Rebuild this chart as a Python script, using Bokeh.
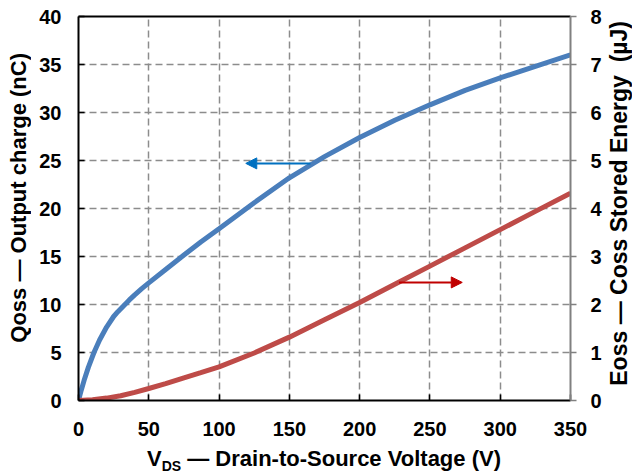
from bokeh.plotting import figure
from bokeh.models import Range1d, LinearAxis, FixedTicker, Arrow, NormalHead, Div
from bokeh.layouts import column, row
from bokeh.embed import file_html
from bokeh.resources import INLINE

# ---- data ----
vds_q = [0, 2, 4, 7, 11, 15, 20, 25, 28, 32, 36, 40, 45, 50, 62, 75, 87, 100, 125, 150, 175, 200, 225, 250, 275, 300, 325, 350]
qoss = [0, 1.1, 2.1, 3.45, 5.0, 6.3, 7.65, 8.75, 9.25, 9.85, 10.45, 11.0, 11.65, 12.25, 13.65, 15.15, 16.5, 17.9, 20.6, 23.2, 25.4, 27.4, 29.2, 30.8, 32.3, 33.6, 34.8, 36.0]

vds_e = [0, 10, 20, 30, 40, 50, 62, 75, 87, 100, 125, 150, 175, 200, 225, 250, 275, 300, 325, 350]
eoss = [0, 0.015, 0.05, 0.10, 0.17, 0.25, 0.35, 0.47, 0.58, 0.70, 0.99, 1.32, 1.68, 2.04, 2.42, 2.80, 3.18, 3.56, 3.94, 4.32]

x_ticks = [0, 50, 100, 150, 200, 250, 300, 350]
q_ticks = [0, 5, 10, 15, 20, 25, 30, 35, 40]
e_ticks = [0, 1, 2, 3, 4, 5, 6, 7, 8]
x_grid = [50, 100, 150, 200, 250, 300]
q_grid = [5, 10, 15, 20, 25, 30, 35]

q_arrow_x = [165, 119]   # start, end (V)
q_arrow_y = [24.7, 24.7]  # nC
e_arrow_x = [228, 273]
e_arrow_y = [2.46, 2.46]  # uJ

left_title = "Qoss \u2014 Output charge (nC)"
right_title = "Eoss \u2014 Coss Stored Energy&nbsp; (\u00b5J)"
bottom_title_main = "V"
bottom_title_sub = "DS"
bottom_title_rest = "\u2014 Drain-to-Source Voltage (V)"

BLUE = "#4A7EBB"
RED = "#BE4B48"
FONT = "Liberation Sans"
CSS_FONT = "font-family:'Liberation Sans',Arial,sans-serif;font-weight:bold;color:#000;white-space:nowrap;"

p = figure(width=569, height=447, output_backend="svg", toolbar_location=None,
           x_range=Range1d(0, 350), y_range=Range1d(0, 40),
           min_border_left=42, min_border_right=35, min_border_top=16, min_border_bottom=47)
p.extra_y_ranges = {"e": Range1d(0, 8)}
p.outline_line_color = None
p.background_fill_color = "white"
p.border_fill_color = "white"

# grid
p.xgrid.ticker = FixedTicker(ticks=x_grid)
p.ygrid.ticker = FixedTicker(ticks=q_grid)
for g in (p.xgrid[0], p.ygrid[0]):
    g.grid_line_color = "#8C8C8C"
    g.grid_line_dash = "7 4"
    g.grid_line_width = 1.5


def style_axis(ax, color="black", tin=6, tout=0, standoff=18):
    ax.axis_line_color = color
    ax.axis_line_width = 2
    ax.major_tick_line_color = color
    ax.major_tick_line_width = 1.5
    ax.major_tick_in = tin
    ax.major_tick_out = tout
    ax.minor_tick_in = 0
    ax.minor_tick_out = 0
    ax.minor_tick_line_color = None
    ax.major_label_text_font = FONT
    ax.major_label_text_font_style = "bold"
    ax.major_label_text_font_size = "20px"
    ax.major_label_text_color = "black"
    ax.major_label_standoff = standoff


xa = p.xaxis[0]
xa.ticker = FixedTicker(ticks=x_ticks)
style_axis(xa, tin=6, tout=0, standoff=21)

ya = p.yaxis[0]
ya.ticker = FixedTicker(ticks=q_ticks)
style_axis(ya, tin=6, tout=0, standoff=17)

ra = LinearAxis(y_range_name="e", ticker=FixedTicker(ticks=e_ticks))
style_axis(ra, color="#808080", tin=0, tout=6, standoff=14)
p.add_layout(ra, "right")

ta = LinearAxis(ticker=FixedTicker(ticks=[]))
ta.axis_line_color = "black"
ta.axis_line_width = 2
ta.major_tick_in = 0
ta.major_tick_out = 0
ta.minor_tick_in = 0
ta.minor_tick_out = 0
ta.major_label_text_font_size = "0px"
ta.major_label_standoff = 0
p.add_layout(ta, "above")

# curves
p.line(vds_q, qoss, line_width=5, line_color=BLUE)
p.line(vds_e, eoss, line_width=5, line_color=RED, y_range_name="e")

# arrows
p.add_layout(Arrow(end=NormalHead(size=11, fill_color="#0070C0", line_color="#0070C0"),
                   x_start=q_arrow_x[0], y_start=q_arrow_y[0], x_end=q_arrow_x[1], y_end=q_arrow_y[1],
                   line_color="#0070C0", line_width=2))
p.add_layout(Arrow(end=NormalHead(size=11, fill_color="#C00000", line_color="#C00000"),
                   x_start=e_arrow_x[0], y_start=e_arrow_y[0], x_end=e_arrow_x[1], y_end=e_arrow_y[1],
                   line_color="#C00000", line_width=2, y_range_name="e"))

# axis titles as text blocks around the plot (rotated ones read bottom-to-top)
ldiv = Div(
    text=('<div style="width:36px;height:396px;box-sizing:border-box;padding-left:2px;'
          'display:flex;align-items:center;justify-content:center;">'
          '<div style="writing-mode:vertical-rl;transform:rotate(180deg);line-height:1;font-size:22px;'
          + CSS_FONT + '">' + left_title + '</div></div>'),
    width=36, height=447, margin=(0, 0, 0, 0))

rdiv = Div(
    text=('<div style="width:28px;height:406px;display:flex;align-items:center;justify-content:center;">'
          '<div style="writing-mode:vertical-rl;transform:rotate(180deg);line-height:1;font-size:23px;'
          + CSS_FONT + '">' + right_title + '</div></div>'),
    width=28, height=447, margin=(0, 0, 0, 0))

bdiv = Div(
    text=('<div style="' + CSS_FONT + 'font-size:22px;padding-left:147px;line-height:24px;margin:0;">'
          + bottom_title_main + '<sub style="font-size:14px;line-height:0;">' + bottom_title_sub + '</sub> '
          + bottom_title_rest + '</div>'),
    width=633, height=27, margin=(0, 0, 0, 0))

layout = column(row(ldiv, p, rdiv, spacing=0), bdiv, spacing=0)
open("out.html", "w").write(file_html(layout, INLINE))
